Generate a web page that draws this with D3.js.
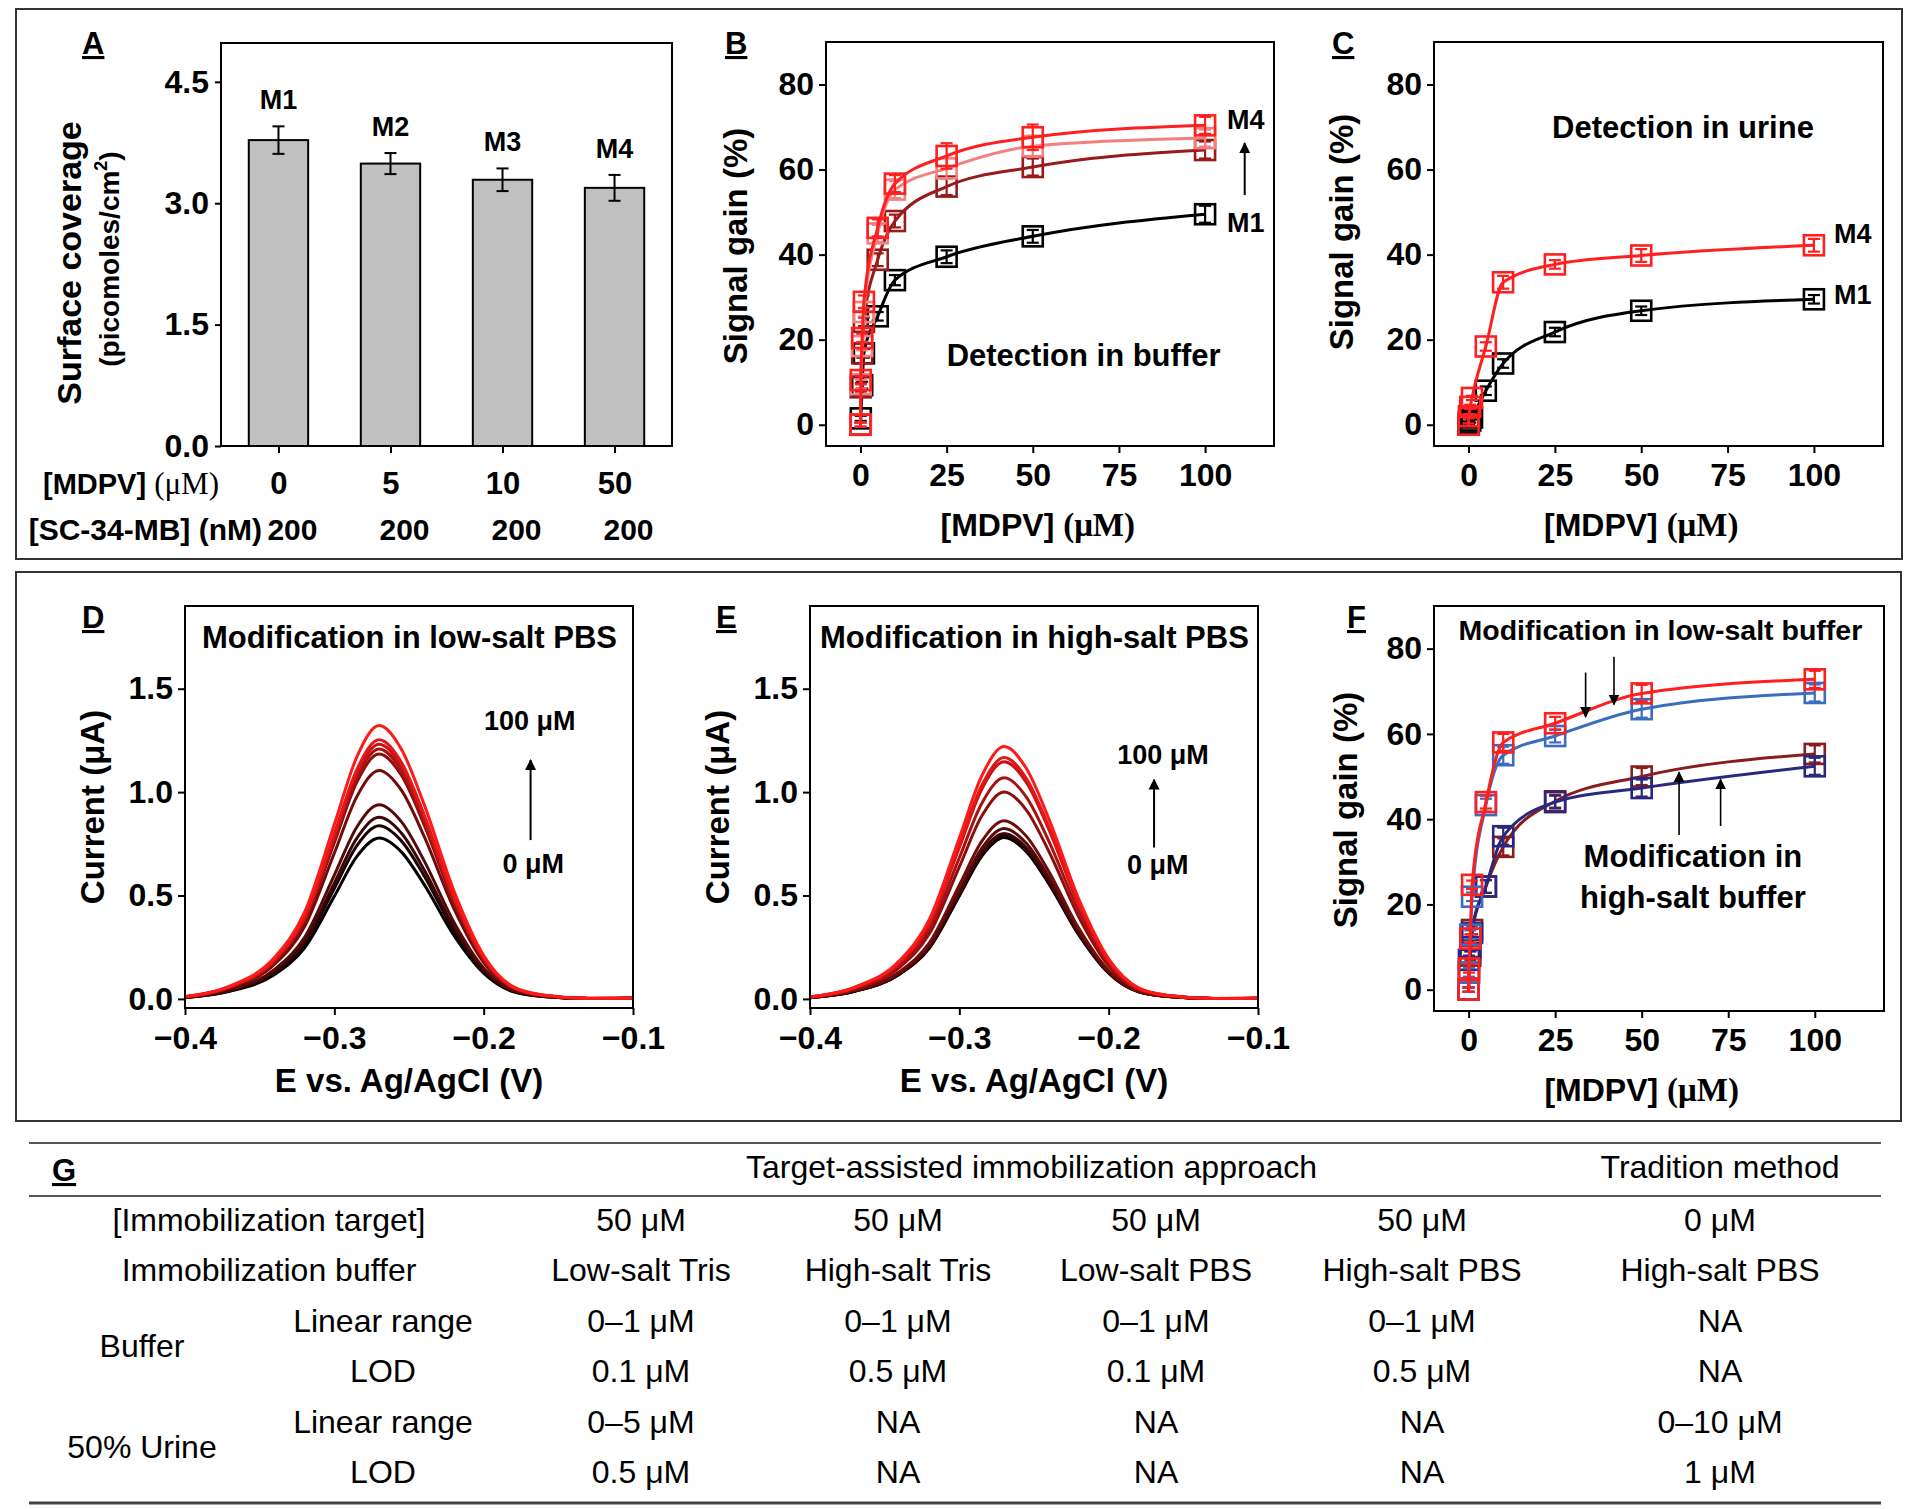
<!DOCTYPE html>
<html><head><meta charset="utf-8">
<script src="https://cdn.jsdelivr.net/npm/d3@7"></script>
<style>
body{margin:0;background:#fff}
svg{display:block}
text{font-family:"Liberation Sans",Arial,Helvetica,sans-serif;fill:#000}
</style></head>
<body><svg id="fig" width="1920" height="1509"></svg>
<script>
// ---------------- DATA ----------------
// Panel A
const barCategories = ["M1", "M2", "M3", "M4"];
const barMdpv = ["0", "5", "10", "50"];
const barProbe = ["200", "200", "200", "200"];
const barValues = [3.78, 3.49, 3.29, 3.19];
const barErrors = [0.17, 0.13, 0.14, 0.16];
const barTicks = [0, 1.5, 3.0, 4.5];

// Panels B, C, F (signal gain vs [MDPV])
const concentrations = [0, 0.1, 0.5, 1, 5, 10, 25, 50, 100];
const gainTicks = [0, 20, 40, 60, 80];
const concTicks = [0, 25, 50, 75, 100];
const bufferM1 = [0, 1.5, 9.3, 16.8, 25.5, 34, 39.5, 44.3, 49.5];
const bufferM2 = [0, 8.8, 16.8, 24.2, 38.8, 47.9, 56, 60.6, 64.6];
const bufferM3 = [0, 9.5, 18.5, 26.5, 45, 55.3, 60.3, 65.5, 67.4];
const bufferM4 = [0, 10.5, 20.4, 28.9, 46.3, 56.7, 63.2, 67.6, 70.4];
const bufferM1Err = [0.5, 0.6, 0.8, 1, 1, 1.2, 1.5, 1.5, 2];
const bufferM2Err = [0.5, 1, 1, 1, 1.5, 1.5, 2, 2, 2];
const bufferM3Err = [0.5, 1, 1, 1, 2, 2, 2.5, 2.5, 2];
const bufferM4Err = [0.5, 1, 1, 1.5, 2, 2, 3, 3, 2];
const urineM1 = [0, 0.5, 1, 1.7, 8, 14.4, 21.8, 26.8, 29.5];
const urineM4 = [0, 2, 4.2, 6.3, 18.4, 33.5, 37.7, 39.8, 42.2];
const urineM1Err = [0.3, 0.3, 0.5, 0.5, 1, 1, 1, 1, 1];
const urineM4Err = [0.3, 0.5, 0.5, 0.5, 1, 1.5, 1, 1.5, 1.5];
const lowSaltRed = [0, 5, 12, 24.6, 44, 58, 62.5, 69.5, 72.8];
const lowSaltBlue = [0, 4, 12.9, 21.8, 43.3, 55, 59.5, 65.8, 69.6];
const highSaltRed = [0, 4, 8, 14, 24.2, 33.5, 44.2, 50, 55.3];
const highSaltNavy = [0, 7, 10, 13.3, 24.2, 36, 44, 47.3, 52.4];
const lowSaltErr = [0.5, 1, 1, 1, 1.5, 2, 1.5, 2, 2];
const highSaltErr = [0.5, 1, 1, 1, 1.5, 2, 1.5, 2, 2];

// Panels D, E (square-wave voltammograms, 0 -> 100 uM)
const potentials = [-0.40, -0.37, -0.34, -0.32, -0.30, -0.285, -0.27, -0.255, -0.24, -0.22, -0.20, -0.18, -0.16, -0.13, -0.10];
const potentialTicks = [-0.4, -0.3, -0.2, -0.1];
const currentTicks = [0, 0.5, 1.0, 1.5];
const lowSaltCurves = [
  [0.006, 0.037, 0.118, 0.246, 0.496, 0.688, 0.778, 0.710, 0.555, 0.308, 0.124, 0.034, 0.011, 0.002, 0.002],
  [0.007, 0.039, 0.127, 0.264, 0.534, 0.740, 0.837, 0.763, 0.597, 0.331, 0.133, 0.037, 0.012, 0.002, 0.003],
  [0.007, 0.041, 0.133, 0.277, 0.560, 0.776, 0.878, 0.801, 0.626, 0.348, 0.140, 0.039, 0.012, 0.002, 0.003],
  [0.008, 0.044, 0.143, 0.297, 0.599, 0.830, 0.939, 0.856, 0.670, 0.372, 0.149, 0.041, 0.013, 0.002, 0.003],
  [0.009, 0.052, 0.168, 0.349, 0.705, 0.977, 1.105, 1.008, 0.788, 0.438, 0.176, 0.049, 0.015, 0.002, 0.003],
  [0.009, 0.056, 0.180, 0.374, 0.755, 1.047, 1.184, 1.080, 0.844, 0.469, 0.188, 0.052, 0.017, 0.002, 0.004],
  [0.010, 0.057, 0.184, 0.382, 0.771, 1.069, 1.209, 1.103, 0.862, 0.479, 0.192, 0.053, 0.017, 0.002, 0.004],
  [0.010, 0.058, 0.187, 0.389, 0.786, 1.089, 1.232, 1.124, 0.878, 0.488, 0.196, 0.054, 0.017, 0.002, 0.004],
  [0.010, 0.059, 0.190, 0.396, 0.799, 1.108, 1.253, 1.143, 0.893, 0.496, 0.199, 0.055, 0.018, 0.003, 0.004],
  [0.011, 0.062, 0.201, 0.418, 0.843, 1.169, 1.322, 1.206, 0.943, 0.524, 0.210, 0.058, 0.019, 0.003, 0.004]
];
const highSaltCurves = [
  [0.006, 0.037, 0.119, 0.246, 0.498, 0.690, 0.780, 0.711, 0.556, 0.309, 0.124, 0.034, 0.011, 0.002, 0.002],
  [0.006, 0.037, 0.120, 0.250, 0.504, 0.698, 0.790, 0.720, 0.563, 0.313, 0.126, 0.035, 0.011, 0.002, 0.002],
  [0.006, 0.038, 0.122, 0.253, 0.510, 0.707, 0.800, 0.730, 0.570, 0.317, 0.127, 0.035, 0.011, 0.002, 0.002],
  [0.007, 0.039, 0.125, 0.260, 0.526, 0.728, 0.824, 0.751, 0.588, 0.326, 0.131, 0.036, 0.012, 0.002, 0.002],
  [0.007, 0.041, 0.131, 0.272, 0.550, 0.762, 0.862, 0.786, 0.615, 0.341, 0.137, 0.038, 0.012, 0.002, 0.003],
  [0.008, 0.047, 0.152, 0.316, 0.638, 0.884, 1.000, 0.912, 0.713, 0.396, 0.159, 0.044, 0.014, 0.002, 0.003],
  [0.009, 0.050, 0.162, 0.338, 0.682, 0.945, 1.069, 0.975, 0.762, 0.423, 0.170, 0.047, 0.015, 0.002, 0.003],
  [0.009, 0.054, 0.174, 0.362, 0.732, 1.014, 1.147, 1.046, 0.818, 0.454, 0.182, 0.050, 0.016, 0.002, 0.003],
  [0.009, 0.055, 0.177, 0.369, 0.745, 1.032, 1.167, 1.064, 0.832, 0.462, 0.186, 0.051, 0.016, 0.002, 0.004],
  [0.010, 0.057, 0.185, 0.386, 0.778, 1.078, 1.220, 1.113, 0.870, 0.483, 0.194, 0.054, 0.017, 0.002, 0.004]
];

// Panel G (table)
const tableHeaders = ["Target-assisted immobilization approach", "Tradition method"];
const tableRowLabels = ["[Immobilization target]", "Immobilization buffer", "Linear range", "LOD", "Linear range", "LOD"];
const tableGroups = ["Buffer", "50% Urine"];
const rowTarget = ["50 μM", "50 μM", "50 μM", "50 μM", "0 μM"];
const rowBuffer = ["Low-salt Tris", "High-salt Tris", "Low-salt PBS", "High-salt PBS", "High-salt PBS"];
const rowBufLinear = ["0–1 μM", "0–1 μM", "0–1 μM", "0–1 μM", "NA"];
const rowBufLOD = ["0.1 μM", "0.5 μM", "0.1 μM", "0.5 μM", "NA"];
const rowUrLinear = ["0–5 μM", "NA", "NA", "NA", "0–10 μM"];
const rowUrLOD = ["0.5 μM", "NA", "NA", "NA", "1 μM"];

// ---------------- DRAWING ----------------
const svg = d3.select("#fig");
svg.append("rect").attr("width", 1920).attr("height", 1509).attr("fill", "#fff");
const defs = svg.append("defs");
defs.append("marker").attr("id", "ah").attr("viewBox", "0 0 10 10").attr("refX", 9).attr("refY", 5)
  .attr("markerUnits", "userSpaceOnUse").attr("markerWidth", 11).attr("markerHeight", 13).attr("orient", "auto")
  .append("path").attr("d", "M0,0L10,5L0,10Z").attr("fill", "#000");

// outer boxes
svg.append("rect").attr("x", 16).attr("y", 9).attr("width", 1886).attr("height", 550)
  .attr("fill", "none").attr("stroke", "#333").attr("stroke-width", 2);
svg.append("rect").attr("x", 16).attr("y", 572).attr("width", 1885).attr("height", 549)
  .attr("fill", "none").attr("stroke", "#333").attr("stroke-width", 2);

const TICK_FS = 32;
function styleAxis(g, fs) {
  g.select(".domain").remove();
  g.selectAll(".tick line").attr("stroke", "#000").attr("stroke-width", 2);
  g.selectAll(".tick text").attr("font-size", fs).attr("font-weight", "bold").attr("fill", "#000");
}
function frame(p) {
  svg.append("rect").attr("x", p.x0).attr("y", p.y0).attr("width", p.x1 - p.x0).attr("height", p.y1 - p.y0)
    .attr("fill", "none").attr("stroke", "#000").attr("stroke-width", 2);
}
function panelLabel(t, x, y) {
  svg.append("text").attr("x", x).attr("y", y).attr("font-size", 31).attr("font-weight", "bold")
    .attr("text-decoration", "underline").text(t);
}
function yTitle(t, x, y, fs) {
  return svg.append("text").attr("transform", `translate(${x},${y}) rotate(-90)`).attr("text-anchor", "middle")
    .attr("font-size", fs || 33).attr("font-weight", "bold").text(t);
}
function boldText(t, x, y, fs, anchor) {
  return svg.append("text").attr("x", x).attr("y", y).attr("font-size", fs).attr("font-weight", "bold")
    .attr("text-anchor", anchor || "middle").text(t);
}
function arrow(x1, y1, x2, y2, w) {
  svg.append("line").attr("x1", x1).attr("y1", y1).attr("x2", x2).attr("y2", y2)
    .attr("stroke", "#000").attr("stroke-width", w || 2).attr("marker-end", "url(#ah)");
}

// ===== Panel A =====
const pA = {x0: 221, x1: 672, y0: 43, y1: 446};
const xA = d3.scalePoint().domain(barCategories).range([pA.x0, pA.x1]).padding(0.513);
const yA = d3.scaleLinear().domain([0, 4.98]).range([pA.y1, pA.y0]);
const bwA = xA.step() * 0.53;
const barData = barCategories.map((c, i) => ({c, v: barValues[i], e: barErrors[i], mdpv: barMdpv[i], probe: barProbe[i]}));
svg.append("g").selectAll("rect").data(barData).join("rect")
  .attr("x", d => xA(d.c) - bwA / 2).attr("y", d => yA(d.v)).attr("width", bwA).attr("height", d => yA(0) - yA(d.v))
  .attr("fill", "#c0c0c0").attr("stroke", "#000").attr("stroke-width", 2);
const eA = svg.append("g").attr("stroke", "#000").attr("stroke-width", 2);
barData.forEach(d => {
  eA.append("line").attr("x1", xA(d.c)).attr("x2", xA(d.c)).attr("y1", yA(d.v - d.e)).attr("y2", yA(d.v + d.e));
  [d.v - d.e, d.v + d.e].forEach(v => eA.append("line").attr("x1", xA(d.c) - 6).attr("x2", xA(d.c) + 6).attr("y1", yA(v)).attr("y2", yA(v)));
  boldText(d.c, xA(d.c), yA(d.v + d.e) - 17, 27);
});
frame(pA);
styleAxis(svg.append("g").attr("transform", `translate(${pA.x0},0)`)
  .call(d3.axisLeft(yA).tickValues(barTicks).tickFormat(d => d.toFixed(1)).tickSize(6).tickPadding(6)), TICK_FS);
const axA = svg.append("g").attr("transform", `translate(0,${pA.y1})`)
  .call(d3.axisBottom(xA).tickSize(7).tickPadding(19).tickFormat((c, i) => barMdpv[i]));
styleAxis(axA, 31);
const rowA1 = svg.append("text").attr("x", 219).attr("y", 494).attr("text-anchor", "end").attr("font-size", 29);
rowA1.append("tspan").attr("font-weight", "bold").text("[MDPV] ");
rowA1.append("tspan").attr("font-family", "'Liberation Serif','Times New Roman',serif").attr("font-size", 31).text("(μM)");
boldText("[SC-34-MB] (nM)", 262, 540, 30, "end");
svg.append("g").selectAll("text").data(barData).join("text")
  .attr("x", d => xA(d.c) + 14).attr("y", 540).attr("text-anchor", "middle").attr("font-size", 30).attr("font-weight", "bold")
  .text(d => d.probe);
panelLabel("A", 82, 54);
yTitle("Surface coverage", 81, 263, 34);
const subA = svg.append("text").attr("transform", "translate(119,259) rotate(-90)").attr("text-anchor", "middle")
  .attr("font-size", 28).attr("font-weight", "bold");
subA.append("tspan").text("(picomoles/cm");
subA.append("tspan").attr("font-size", 18).attr("dy", -12).text("2");
subA.append("tspan").attr("dy", 12).text(")");

// ===== Signal gain panels helper =====
function gainPanel(p, series, opts) {
  const x = d3.scaleLinear().domain([-10, 120]).range([p.x0, p.x1]);
  const y = d3.scaleLinear().domain([-5, 90]).range([p.y1, p.y0]);
  const line = d3.line().x(d => x(d[0])).y(d => y(d[1])).curve(d3.curveMonotoneX);
  series.forEach(s => {
    const pts = concentrations.map((c, i) => [c, s.values[i], s.err[i]]);
    svg.append("path").datum(pts).attr("d", line).attr("fill", "none").attr("stroke", s.color).attr("stroke-width", 3);
    const g = svg.append("g").attr("stroke", s.color).attr("stroke-width", 2.2).attr("fill", "none");
    pts.forEach(d => {
      g.append("line").attr("x1", x(d[0])).attr("x2", x(d[0])).attr("y1", y(d[1] - d[2])).attr("y2", y(d[1] + d[2]));
      [d[1] - d[2], d[1] + d[2]].forEach(v => g.append("line").attr("x1", x(d[0]) - 6).attr("x2", x(d[0]) + 6).attr("y1", y(v)).attr("y2", y(v)));
    });
    g.selectAll("rect").data(pts).join("rect").attr("x", d => x(d[0]) - 10).attr("y", d => y(d[1]) - 10)
      .attr("width", 20).attr("height", 20).attr("stroke-width", 2.6);
  });
  frame(p);
  styleAxis(svg.append("g").attr("transform", `translate(${p.x0},0)`)
    .call(d3.axisLeft(y).tickValues(gainTicks).tickSize(7).tickPadding(5)), TICK_FS);
  styleAxis(svg.append("g").attr("transform", `translate(0,${p.y1})`)
    .call(d3.axisBottom(x).tickValues(concTicks).tickSize(7).tickPadding(10)), TICK_FS);
  const t = svg.append("text").attr("x", (x(0) + x(100)) / 2 + opts.titleDx).attr("y", p.y1 + 90)
    .attr("text-anchor", "middle").attr("font-size", 32).attr("font-weight", "bold");
  t.append("tspan").text("[MDPV] ");
  t.append("tspan").attr("font-family", "'Liberation Serif','Times New Roman',serif").attr("font-size", 33).text("(μM)");
  return {x, y};
}

// ===== Panel B =====
const pB = {x0: 826, x1: 1274, y0: 42, y1: 446};
const sB = gainPanel(pB, [
  {values: bufferM1, err: bufferM1Err, color: "#000000"},
  {values: bufferM2, err: bufferM2Err, color: "#9a1a1a"},
  {values: bufferM3, err: bufferM3Err, color: "#f28080"},
  {values: bufferM4, err: bufferM4Err, color: "#ff1f1f"}
], {titleDx: 5});
panelLabel("B", 725, 54);
yTitle("Signal gain (%)", 747, 246, 33);
boldText("Detection in buffer", sB.x(64.75), sB.y(13.85), 31);
boldText("M4", sB.x(100) + 22, sB.y(70.4) + 4, 27, "start");
boldText("M1", sB.x(100) + 22, sB.y(49.5) + 18, 27, "start");
arrow(sB.x(111.5), sB.y(54), sB.x(111.5), sB.y(66.2), 2);

// ===== Panel C =====
const pC = {x0: 1434, x1: 1883, y0: 42, y1: 446};
const sC = gainPanel(pC, [
  {values: urineM1, err: urineM1Err, color: "#000000"},
  {values: urineM4, err: urineM4Err, color: "#ff1f1f"}
], {titleDx: 0});
panelLabel("C", 1332, 54);
yTitle("Signal gain (%)", 1353, 232, 33);
boldText("Detection in urine", sC.x(62.1), sC.y(67.5), 31);
boldText("M4", sC.x(105.8), sC.y(42.7), 27, "start");
boldText("M1", sC.x(105.8), sC.y(28.5), 27, "start");

// ===== Panels D & E =====
const minusFmt = d3.format(".1f");
function swvPanel(p, curves, o) {
  const x = d3.scaleLinear().domain([-0.4, -0.1]).range([p.x0, p.x1]);
  const y = d3.scaleLinear().domain([-0.044, 1.9]).range([p.y1, p.y0]);
  const color = d3.interpolateRgb("#000000", "#ff1a1a");
  const line = d3.line().x(d => x(d[0])).y(d => y(d[1])).curve(d3.curveMonotoneX);
  curves.forEach((c, i) => {
    svg.append("path").datum(potentials.map((e, j) => [e, c[j]])).attr("d", line)
      .attr("fill", "none").attr("stroke", color(i / (curves.length - 1))).attr("stroke-width", 3);
  });
  frame(p);
  styleAxis(svg.append("g").attr("transform", `translate(${p.x0},0)`)
    .call(d3.axisLeft(y).tickValues(currentTicks).tickFormat(d => d.toFixed(1)).tickSize(7).tickPadding(5)), TICK_FS);
  styleAxis(svg.append("g").attr("transform", `translate(0,${p.y1})`)
    .call(d3.axisBottom(x).tickValues(potentialTicks).tickFormat(minusFmt).tickSize(7).tickPadding(11)), TICK_FS);
  boldText("E vs. Ag/AgCl (V)", (p.x0 + p.x1) / 2, 1092, 33);
  boldText(o.title, x(-0.2497), y(1.698), 31);
  boldText("100 μM", x(o.hiX), y(o.hiY), 27);
  boldText("0 μM", x(o.loX), y(o.loY), 27);
  arrow(x(o.arX), y(o.arY1), x(o.arX), y(o.arY2), 2);
  return {x, y};
}
const pD = {x0: 185, x1: 633, y0: 606, y1: 1008};
swvPanel(pD, lowSaltCurves, {title: "Modification in low-salt PBS", hiX: -0.1692, hiY: 1.30, loX: -0.1668, loY: 0.611, arX: -0.1686, arY1: 0.768, arY2: 1.155});
panelLabel("D", 82, 628);
yTitle("Current (μA)", 104, 807, 33);
const pE = {x0: 810, x1: 1258, y0: 606, y1: 1008};
swvPanel(pE, highSaltCurves, {title: "Modification in high-salt PBS", hiX: -0.1636, hiY: 1.137, loX: -0.1672, loY: 0.604, arX: -0.1696, arY1: 0.732, arY2: 1.06});
panelLabel("E", 716, 628);
yTitle("Current (μA)", 729, 807, 33);

// ===== Panel F =====
const pF = {x0: 1434, x1: 1884, y0: 606, y1: 1011};
const sF = gainPanel(pF, [
  {values: highSaltRed, err: highSaltErr, color: "#8b1c1c"},
  {values: highSaltNavy, err: highSaltErr, color: "#28287f"},
  {values: lowSaltBlue, err: lowSaltErr, color: "#3b6cc0"},
  {values: lowSaltRed, err: lowSaltErr, color: "#ff1f1f"}
], {titleDx: 0});
panelLabel("F", 1347, 628);
yTitle("Signal gain (%)", 1357, 810, 33);
boldText("Modification in low-salt buffer", sF.x(55.4), sF.y(82.1), 28.5);
boldText("Modification in", sF.x(64.8), sF.y(28.8), 31);
boldText("high-salt buffer", sF.x(64.8), sF.y(19.2), 31);
arrow(sF.x(33.8), sF.y(74.4), sF.x(33.8), sF.y(64), 1.6);
arrow(sF.x(42), sF.y(78.1), sF.x(42), sF.y(66.9), 1.6);
arrow(sF.x(60.8), sF.y(36.3), sF.x(60.8), sF.y(51), 1.6);
arrow(sF.x(72.8), sF.y(38.4), sF.x(72.8), sF.y(49.3), 1.6);

// ===== Panel G (table) =====
const colX = [641, 898, 1156, 1422, 1720];
const rowY = d3.scaleLinear().domain([0, 5]).range([1231, 1483]);
const tfs = 32;
[1143, 1196].forEach(yv => svg.append("line").attr("x1", 29).attr("x2", 1881).attr("y1", yv).attr("y2", yv)
  .attr("stroke", "#555").attr("stroke-width", 2));
svg.append("line").attr("x1", 29).attr("x2", 1881).attr("y1", 1503).attr("y2", 1503).attr("stroke", "#444").attr("stroke-width", 3);
panelLabel("G", 52, 1181);
function plain(t, x, y) {
  return svg.append("text").attr("x", x).attr("y", y).attr("text-anchor", "middle").attr("font-size", tfs).text(t);
}
plain(tableHeaders[0], (colX[0] + colX[3]) / 2, 1178);
plain(tableHeaders[1], colX[4], 1178);
plain(tableRowLabels[0], 269, rowY(0));
plain(tableRowLabels[1], 269, rowY(1));
[2, 3, 4, 5].forEach(i => plain(tableRowLabels[i], 383, rowY(i)));
plain(tableGroups[0], 142, (rowY(2) + rowY(3)) / 2);
plain(tableGroups[1], 142, (rowY(4) + rowY(5)) / 2);
[rowTarget, rowBuffer, rowBufLinear, rowBufLOD, rowUrLinear, rowUrLOD].forEach((row, r) => {
  row.forEach((v, c) => plain(v, colX[c], rowY(r)));
});
</script></body></html>
